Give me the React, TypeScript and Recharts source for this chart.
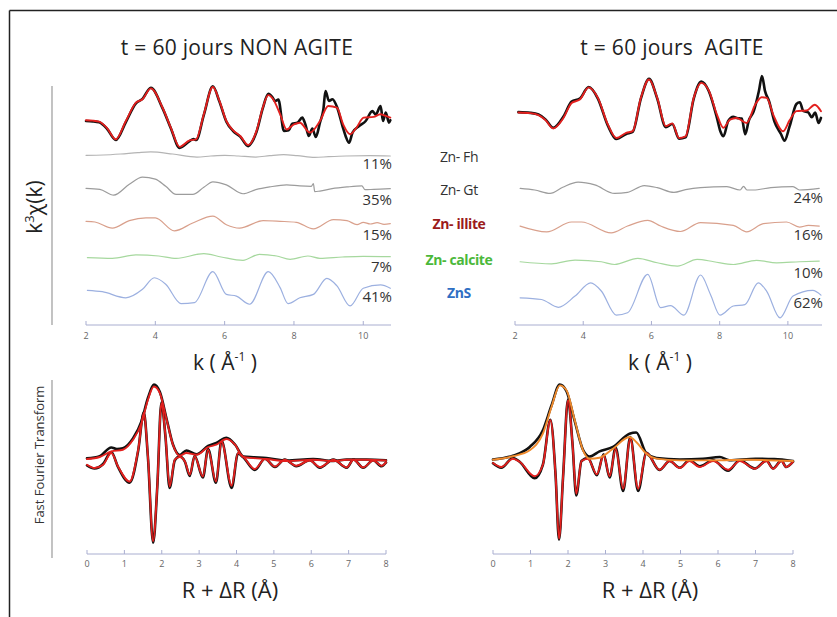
import React from 'react';
import { LineChart, Line, XAxis, YAxis } from 'recharts';

type Pt = [number, number];

// ---------- k-space, left panel (t = 60 jours NON AGITE) ----------
const kLeftExp: Pt[] = [[2.0,0.0],[2.2,-0.1],[2.38,-0.4],[2.6,-2.2],[2.86,-5.6],[3.15,-0.3],[3.44,5.2],[3.63,6.5],[3.87,9.8],[4.21,3.7],[4.45,-2.2],[4.7,-7.9],[4.99,-5.9],[5.1,-5.3],[5.18,-5.6],[5.4,1.8],[5.66,10.2],[5.85,5.7],[6.05,-0.2],[6.24,-2.9],[6.45,-4.6],[6.68,-7.4],[6.8,-6.0],[6.92,-3.2],[7.1,3.7],[7.26,8.0],[7.38,7.0],[7.45,5.9],[7.55,6.3],[7.71,-2.9],[7.85,-2.7],[7.95,-0.8],[8.1,-0.5],[8.24,1.0],[8.33,-1.0],[8.43,-4.4],[8.53,-2.2],[8.63,-4.7],[8.75,-0.5],[8.85,3.5],[8.91,8.8],[9.01,5.9],[9.11,6.4],[9.25,3.9],[9.4,-1.5],[9.49,-4.4],[9.59,-6.4],[9.69,-3.4],[9.88,-1.5],[10.07,0.0],[10.26,2.9],[10.36,1.9],[10.5,4.4],[10.57,0.0],[10.65,2.5],[10.74,-0.5],[10.78,0.2]];
const kLeftFit: Pt[] = [[2.0,0.2],[2.2,0.1],[2.38,-0.2],[2.6,-2.0],[2.86,-5.4],[3.15,0.0],[3.44,5.4],[3.63,6.4],[3.87,9.6],[4.21,3.9],[4.45,-2.0],[4.7,-7.6],[4.99,-5.7],[5.18,-5.4],[5.4,2.0],[5.66,10.0],[5.85,5.9],[6.05,0.0],[6.24,-2.7],[6.45,-4.4],[6.68,-7.1],[6.92,-2.9],[7.1,3.9],[7.26,7.6],[7.4,6.4],[7.6,2.0],[7.79,-2.5],[8.0,-1.0],[8.17,-0.5],[8.46,-3.4],[8.75,0.0],[8.99,4.4],[9.24,3.9],[9.42,-1.0],[9.62,-3.9],[9.8,-2.0],[10.01,1.0],[10.3,1.2],[10.49,2.0],[10.65,1.5],[10.78,1.0]];
const kLeftFh: Pt[] = [[2.0,-0.1],[2.5,0.0],[3.0,0.3],[3.5,0.7],[3.87,0.9],[4.5,0.3],[5.2,-0.6],[5.6,-0.3],[6.0,-0.1],[6.4,-0.3],[6.9,-0.6],[7.3,-0.2],[7.7,0.1],[8.1,-0.2],[8.6,-0.7],[9.0,-0.5],[9.5,-0.3],[10.2,-0.2],[10.78,-0.3]];
const kLeftGt: Pt[] = [[2.0,0.2],[2.4,-0.1],[2.8,-1.8],[3.25,1.4],[3.63,3.5],[4.0,2.9],[4.3,0.8],[4.6,-1.6],[5.08,-1.6],[5.4,0.5],[5.66,2.1],[6.05,1.2],[6.53,-1.4],[6.9,-0.2],[7.3,0.6],[7.79,1.2],[8.17,0.9],[8.5,0.8],[8.56,1.6],[8.6,-0.8],[8.75,-0.6],[9.1,0.1],[9.53,0.6],[9.96,0.9],[10.05,-0.2],[10.3,-0.1],[10.78,0.1]];
const kLeftIllite: Pt[] = [[2.0,0.5],[2.26,0.3],[2.76,-1.5],[3.25,0.7],[3.73,1.5],[4.0,1.5],[4.55,-2.3],[5.08,0.0],[5.66,2.0],[6.05,-0.5],[6.43,-1.5],[7.11,0.7],[7.6,0.5],[8.07,0.2],[8.56,-1.7],[9.14,1.0],[9.53,0.7],[9.82,-0.5],[10.0,0.2],[10.2,-0.3],[10.4,0.1],[10.6,-0.4],[10.78,-0.2]];
const kLeftCalcite: Pt[] = [[2.04,-0.2],[2.76,-0.4],[3.44,0.6],[4.1,0.3],[4.6,-0.4],[5.4,1.0],[5.9,0.0],[6.53,-1.0],[7.0,0.8],[7.5,0.3],[7.89,-0.7],[8.4,0.3],[8.75,-0.4],[9.4,0.0],[10.0,0.2],[10.78,0.1]];
const kLeftZnS: Pt[] = [[2.04,0.2],[2.47,-0.2],[3.15,-2.0],[3.63,0.5],[3.97,3.9],[4.3,2.0],[4.74,-3.7],[5.13,-3.4],[5.66,5.7],[6.05,-1.0],[6.34,-1.5],[6.72,-3.9],[7.26,5.7],[7.6,1.0],[7.83,-3.7],[8.17,-2.0],[8.56,-1.0],[8.95,3.7],[9.24,1.5],[9.62,-4.4],[10.0,0.8],[10.5,1.8],[10.78,0.8]];

// ---------- k-space, right panel (t = 60 jours AGITE) ----------
const kRightExp: Pt[] = [[2.1,0.6],[2.45,0.4],[2.69,-0.1],[2.9,-1.6],[3.12,-4.0],[3.42,-0.7],[3.66,3.7],[3.9,4.6],[4.16,8.0],[4.43,4.6],[4.72,-3.3],[4.97,-7.3],[5.26,-5.8],[5.45,-5.2],[5.69,4.6],[5.93,10.4],[6.17,4.6],[6.42,-3.8],[6.61,-2.9],[6.81,-7.2],[7.0,-6.8],[7.24,4.6],[7.46,9.6],[7.68,6.8],[7.92,-1.1],[8.02,-5.0],[8.11,-6.5],[8.25,-2.0],[8.4,-0.8],[8.5,-1.1],[8.65,-1.3],[8.75,-5.9],[8.85,-2.0],[9.0,0.9],[9.15,6.8],[9.24,11.2],[9.33,6.8],[9.45,3.8],[9.6,-2.0],[9.8,-5.9],[9.9,-7.8],[10.05,-3.6],[10.25,3.0],[10.35,3.5],[10.45,1.0],[10.6,0.5],[10.7,-0.9],[10.8,0.5],[10.9,-2.6],[10.97,-1.1]];
const kRightFit: Pt[] = [[2.1,0.5],[2.45,0.3],[2.69,-0.3],[2.9,-1.8],[3.12,-4.2],[3.42,-1.1],[3.66,3.3],[3.9,4.3],[4.16,7.9],[4.43,4.8],[4.72,-3.0],[4.97,-7.0],[5.26,-5.5],[5.45,-5.0],[5.69,4.8],[5.93,10.2],[6.17,4.8],[6.42,-3.5],[6.61,-2.7],[6.81,-7.0],[7.0,-6.5],[7.24,4.8],[7.46,9.2],[7.68,7.0],[7.92,-0.1],[8.11,-4.0],[8.3,-1.6],[8.5,-1.1],[8.79,-2.6],[9.04,2.8],[9.23,5.0],[9.38,4.8],[9.57,-0.1],[9.86,-5.0],[10.05,-1.8],[10.25,0.9],[10.55,1.1],[10.79,2.8],[10.97,0.9]];
const kRightGt: Pt[] = [[2.15,0.2],[2.58,-0.3],[3.03,-1.3],[3.4,0.5],[3.85,2.0],[4.34,1.2],[4.92,-1.3],[5.3,-1.0],[5.79,1.0],[6.17,0.4],[6.66,-1.0],[7.0,-0.2],[7.44,0.4],[8.21,0.7],[8.6,-0.3],[8.7,0.8],[8.8,-0.3],[8.99,-0.3],[9.5,0.4],[10.15,0.7],[10.34,-0.3],[10.92,0.2]];
const kRightIllite: Pt[] = [[2.15,0.1],[2.93,-1.6],[3.66,1.3],[3.95,1.3],[4.82,-1.9],[5.3,0.1],[5.89,1.8],[6.27,0.1],[6.85,-1.5],[7.44,1.1],[8.4,0.3],[8.79,-1.6],[9.28,0.8],[9.96,1.3],[10.34,-0.2],[10.6,0.3],[10.92,0.1]];
const kRightCalcite: Pt[] = [[2.15,0.0],[3.07,-0.6],[3.76,0.5],[4.53,0.0],[4.92,-0.8],[5.6,1.0],[6.17,-0.3],[6.76,-1.3],[7.34,0.7],[7.83,0.0],[8.4,-0.8],[9.08,0.4],[9.67,-0.3],[10.34,0.0],[10.92,0.2]];
const kRightZnS: Pt[] = [[2.15,0.3],[2.78,-0.2],[3.27,-2.5],[3.76,0.8],[4.22,4.7],[4.53,2.3],[4.97,-4.8],[5.3,-4.1],[5.89,7.2],[6.27,-2.6],[6.56,-2.0],[6.95,-4.8],[7.44,7.0],[7.73,1.3],[8.01,-4.8],[8.4,-2.1],[8.74,-1.7],[9.13,4.7],[9.38,2.2],[9.77,-5.6],[10.15,0.8],[10.73,2.5],[10.97,1.1]];

// vertical stacking of the k-space traces: data, Fh, Gt, illite, calcite, ZnS
const leftOffsets = [0, -10, -20, -30, -40, -50];
const rightOffsets = [2, -10, -20, -31, -41.4, -52.3];

// ---------- R-space (FT) ----------
const ftLeftMagExp: Pt[] = [[0,0.45],[0.34,0.75],[0.65,1.9],[0.8,1.7],[0.96,1.8],[1.23,3.1],[1.46,5.4],[1.63,8.5],[1.79,10.3],[1.95,9.3],[2.13,5.7],[2.3,2.3],[2.48,0.9],[2.66,1.5],[2.93,1.0],[3.24,2.1],[3.46,2.5],[3.73,3.2],[3.96,2.3],[4.18,0.7],[4.45,0.6],[4.8,0.5],[5.34,0.15],[6.05,0.35],[6.59,0.1],[6.95,0.3],[7.48,0.3],[8,0.2]];
const ftLeftMagFit: Pt[] = [[0,0.36],[0.34,0.63],[0.65,1.37],[0.96,1.6],[1.23,2.93],[1.46,5.16],[1.63,8.27],[1.79,10.04],[1.95,9.16],[2.13,5.6],[2.3,2.27],[2.48,0.8],[2.66,1.16],[2.93,0.93],[3.24,1.96],[3.46,2.27],[3.73,3.03],[3.96,2.27],[4.18,0.63],[4.45,0.49],[4.8,0.36],[5.34,0.09],[6.05,0.27],[6.59,0.09],[6.95,0.27],[7.48,0.27],[8,0.17]];
const ftLeftReExp: Pt[] = [[0,-0.5],[0.2,-0.9],[0.43,-0.3],[0.65,1.3],[0.83,-0.7],[1.14,-2.8],[1.37,1.5],[1.52,6.6],[1.63,0.6],[1.77,-10.8],[1.88,-3.4],[1.99,7.9],[2.1,3.3],[2.21,-3.5],[2.35,0.2],[2.48,0.7],[2.62,0.0],[2.75,-1.9],[2.88,0.8],[3.1,-2.1],[3.24,1.7],[3.45,-2.8],[3.6,2.8],[3.87,-3.5],[4.04,1.1],[4.18,0.6],[4.49,-1.1],[4.76,0.4],[5.03,-0.7],[5.29,0.3],[5.6,-0.6],[5.96,0.2],[6.23,-0.8],[6.59,0.3],[6.95,-0.8],[7.13,0.3],[7.39,-0.8],[7.66,0.2],[7.88,-0.6],[8,-0.1]];
const ftLeftReFit: Pt[] = [[0,-0.4],[0.2,-0.84],[0.43,-0.4],[0.65,1.16],[0.83,-0.63],[1.14,-2.63],[1.37,1.6],[1.52,6.49],[1.63,0.71],[1.77,-10.6],[1.88,-3.3],[1.99,7.8],[2.1,3.4],[2.21,-3.3],[2.35,0.27],[2.48,0.63],[2.62,0.04],[2.75,-1.73],[2.88,0.71],[3.1,-1.96],[3.24,1.6],[3.45,-2.63],[3.6,2.67],[3.87,-3.2],[4.04,1.16],[4.18,0.67],[4.49,-0.97],[4.76,0.36],[5.03,-0.63],[5.29,0.27],[5.6,-0.53],[5.96,0.17],[6.23,-0.71],[6.59,0.27],[6.95,-0.76],[7.13,0.27],[7.39,-0.76],[7.66,0.17],[7.88,-0.53],[8,-0.07]];

const ftRightMagExp: Pt[] = [[0,0.2],[0.53,0.7],[0.98,1.87],[1.33,4.1],[1.56,7.4],[1.78,10.2],[1.96,9.3],[2.18,5.3],[2.4,1.5],[2.58,0.6],[2.84,1.29],[3.2,1.87],[3.64,3.64],[3.82,3.8],[4.09,1.0],[4.36,0.4],[4.98,0.2],[5.6,0.3],[6.05,0.53],[6.3,0.1],[7.0,0.31],[7.5,0.25],[8,0.0]];
const ftRightMagFit: Pt[] = [[0,0.17],[0.53,0.63],[0.98,1.43],[1.33,3.64],[1.56,7.2],[1.78,10.09],[1.96,9.43],[2.18,5.43],[2.4,1.43],[2.58,0.31],[2.84,0.44],[3.2,1.64],[3.64,3.2],[3.82,2.53],[4.09,0.97],[4.36,0.31],[4.98,0.09],[5.87,0.09],[6.76,0.17],[8,0.0]];
const ftRightReExp: Pt[] = [[0,-0.3],[0.22,-0.9],[0.53,0.4],[0.71,-0.1],[1.11,-2.3],[1.33,-0.5],[1.53,5.5],[1.67,-2.0],[1.76,-10.5],[1.87,-2.0],[2.0,8.2],[2.12,2.3],[2.22,-4.6],[2.36,0.0],[2.53,0.4],[2.77,-1.9],[2.95,0.9],[3.11,-2.2],[3.27,1.8],[3.47,-4.0],[3.66,3.2],[3.87,-4.0],[4.09,1.1],[4.44,-1.2],[4.71,0.0],[4.98,-0.9],[5.24,0.1],[5.51,-0.7],[5.87,0.1],[6.27,-1.3],[6.58,0.1],[6.98,-1.0],[7.29,0.05],[7.47,-1.0],[7.69,0.05],[7.82,-0.8],[8,-0.1]];
const ftRightReFit: Pt[] = [[0,-0.27],[0.22,-0.8],[0.53,0.31],[0.71,-0.1],[1.11,-2.04],[1.33,-0.5],[1.53,5.43],[1.67,-2.0],[1.76,-10.36],[1.87,-2.0],[2.0,8.09],[2.12,2.3],[2.22,-4.36],[2.36,0.0],[2.53,0.31],[2.77,-1.77],[2.95,0.76],[3.11,-2.04],[3.27,1.64],[3.47,-3.69],[3.66,2.97],[3.87,-3.69],[4.09,1.07],[4.44,-1.16],[4.71,0.0],[4.98,-0.93],[5.24,0.0],[5.51,-0.8],[5.87,0.0],[6.27,-1.16],[6.58,0.0],[6.98,-1.03],[7.29,0.0],[7.47,-1.03],[7.69,0.0],[7.82,-0.8],[8,-0.13]];

const kTicks = [2, 4, 6, 8, 10];
const rTicks = [0, 1, 2, 3, 4, 5, 6, 7, 8];
const leftPercents = ['11%', '35%', '15%', '7%', '41%'];
const rightPercents = ['24%', '16%', '10%', '62%'];
const phaseLabels = ['Zn- Fh', 'Zn- Gt', 'Zn- illite', 'Zn- calcite', 'ZnS'];

const toRows = (pts: Pt[], offset = 0) => pts.map(([x, y]) => ({ x, y: y + offset }));

const FONT = "'Open Sans', 'DejaVu Sans', sans-serif";
const AXIS = '#a9aed0';
const RED = '#e3201e';
const BLACK = '#111111';
const ORANGE = '#ef8a2c';
const C_FH = '#b4b4b4';
const C_GT = '#9c9c9c';
const C_ILL = '#d9a08c';
const C_CAL = '#a6d89e';
const C_ZNS = '#9cb0e0';

const tickStyle = { fontSize: 9, fill: '#666', fontFamily: FONT };

function line(data: { x: number; y: number }[], color: string, width: number, key: string) {
  return (
    <Line
      key={key}
      data={data}
      dataKey="y"
      type="monotone"
      stroke={color}
      strokeWidth={width}
      dot={false}
      activeDot={false}
      isAnimationActive={false}
      strokeLinejoin="round"
      strokeLinecap="round"
    />
  );
}

function KPanel(props: {
  left: number; width: number; domain: [number, number];
  exp: Pt[]; fit: Pt[]; comps: (Pt[] | null)[]; offsets: number[];
}) {
  const colors = [C_FH, C_GT, C_ILL, C_CAL, C_ZNS];
  return (
    <div style={{ position: 'absolute', left: props.left, top: 70 }}>
      <LineChart width={props.width} height={285} margin={{ top: 0, right: 10, bottom: 0, left: 10 }}>
        <XAxis type="number" dataKey="x" domain={props.domain} ticks={kTicks} stroke={AXIS}
          tick={tickStyle} tickSize={-4} tickMargin={12} height={30} interval={0} />
        <YAxis type="number" hide domain={[-60, 15]} />
        {props.comps.map((c, i) => (c ? line(toRows(c, props.offsets[i + 1]), colors[i], 1.2, 'c' + i) : null))}
        {line(toRows(props.exp, props.offsets[0]), BLACK, 2.6, 'exp')}
        {line(toRows(props.fit, props.offsets[0]), RED, 1.9, 'fit')}
      </LineChart>
    </div>
  );
}

function RPanel(props: {
  left: number; width: number; yDomain: [number, number];
  magExp: Pt[]; magFit: Pt[]; reExp: Pt[]; reFit: Pt[]; magColor: string;
}) {
  return (
    <div style={{ position: 'absolute', left: props.left, top: 380 }}>
      <LineChart width={props.width} height={204} margin={{ top: 0, right: 10, bottom: 0, left: 10 }}>
        <XAxis type="number" dataKey="x" domain={[0, 8]} ticks={rTicks} stroke={AXIS}
          tick={tickStyle} tickSize={-4} tickMargin={11} height={30} interval={0} />
        <YAxis type="number" hide domain={props.yDomain} />
        {line(toRows(props.reExp), BLACK, 2.6, 'reExp')}
        {line(toRows(props.magExp), BLACK, 2.6, 'magExp')}
        {line(toRows(props.reFit), RED, 1.9, 'reFit')}
        {line(toRows(props.magFit), props.magColor, 1.9, 'magFit')}
      </LineChart>
    </div>
  );
}

export default function App() {
  const phaseColors = ['#333', '#333', '#9b1b1b', '#4bb83a', '#2f6fc4'];
  const phaseY = [162, 195, 229, 265, 298];
  const phaseBold = [false, false, true, true, true];
  const leftPctY = [169, 205, 240, 272, 302];
  const rightPctY = [203, 240, 278, 308];
  return (
    <div style={{ position: 'absolute', left: 0, top: 0, width: 837, height: 617, background: '#fff', overflow: 'hidden' }}>
      <KPanel left={76} width={325} domain={[2, 10.8]} exp={kLeftExp} fit={kLeftFit}
        comps={[kLeftFh, kLeftGt, kLeftIllite, kLeftCalcite, kLeftZnS]} offsets={leftOffsets} />
      <KPanel left={505} width={327} domain={[2, 11]} exp={kRightExp} fit={kRightFit}
        comps={[null, kRightGt, kRightIllite, kRightCalcite, kRightZnS]} offsets={rightOffsets} />
      <RPanel left={77} width={319} yDomain={[-12.3, 10.9]} magExp={ftLeftMagExp} magFit={ftLeftMagFit}
        reExp={ftLeftReExp} reFit={ftLeftReFit} magColor={RED} />
      <RPanel left={483} width={320} yDomain={[-12.4, 10.8]} magExp={ftRightMagExp} magFit={ftRightMagFit}
        reExp={ftRightReExp} reFit={ftRightReFit} magColor={ORANGE} />

      <svg width={837} height={617} style={{ position: 'absolute', left: 0, top: 0, pointerEvents: 'none' }}>
        {/* frame */}
        <line x1={9.5} y1={10.5} x2={837} y2={10.5} stroke="#222" strokeWidth={1.5} />
        <line x1={9.5} y1={10.5} x2={9.5} y2={617} stroke="#222" strokeWidth={1.5} />
        {/* y guide lines */}
        <line x1={52} y1={86} x2={52} y2={325} stroke="#9a9a9a" strokeWidth={1.2} />
        <line x1={52} y1={380} x2={52} y2={558} stroke="#9a9a9a" strokeWidth={1.2} />

        <g fontFamily={FONT} fill="#222">
          <text x={237} y={55} fontSize={21} textAnchor="middle" letterSpacing={0.3}>t = 60 jours NON AGITE</text>
          <text x={672} y={55} fontSize={21} textAnchor="middle" letterSpacing={0.3} style={{ whiteSpace: 'pre' }}>t = 60 jours  AGITE</text>

          <text transform="translate(42,207) rotate(-90)" fontSize={21} textAnchor="middle">
            k<tspan dy={-8} fontSize={13}>3</tspan><tspan dy={8}>χ(k)</tspan>
          </text>
          <text transform="translate(44,455) rotate(-90)" fontSize={13} textAnchor="middle" fill="#333">Fast Fourier Transform</text>

          <text x={225} y={370} fontSize={21} textAnchor="middle">
            k ( Å<tspan dy={-9} fontSize={12}>-1</tspan><tspan dy={9}> )</tspan>
          </text>
          <text x={660} y={370} fontSize={21} textAnchor="middle">
            k ( Å<tspan dy={-9} fontSize={12}>-1</tspan><tspan dy={9}> )</tspan>
          </text>

          <text x={230} y={598} fontSize={22} textAnchor="middle">R + ΔR (Å)</text>
          <text x={650} y={598} fontSize={22} textAnchor="middle">R + ΔR (Å)</text>

          {leftPercents.map((p, i) => (
            <text key={'lp' + i} x={392} y={leftPctY[i]} fontSize={15} textAnchor="end" fill="#333">{p}</text>
          ))}
          {rightPercents.map((p, i) => (
            <text key={'rp' + i} x={823} y={rightPctY[i]} fontSize={15} textAnchor="end" fill="#333">{p}</text>
          ))}
          {phaseLabels.map((p, i) => (
            <text key={'ph' + i} x={459} y={phaseY[i]} fontSize={14} textAnchor="middle"
              fill={phaseColors[i]} fontWeight={phaseBold[i] ? 700 : 400} letterSpacing={-0.4}>{p}</text>
          ))}
        </g>
      </svg>
    </div>
  );
}
